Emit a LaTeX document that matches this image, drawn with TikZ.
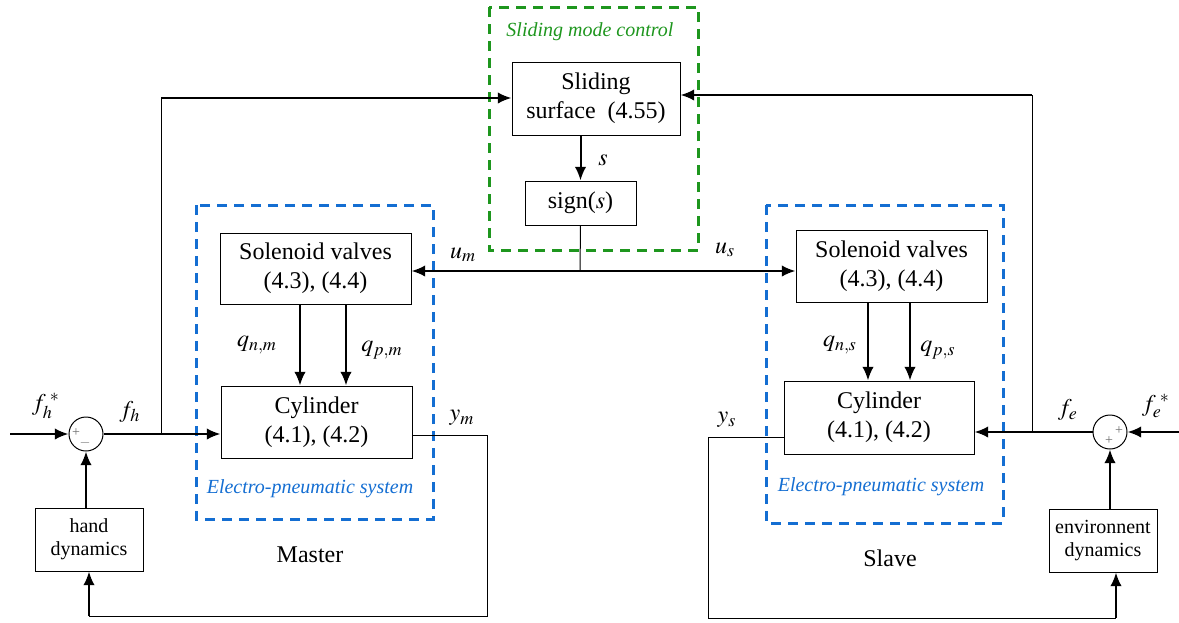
\documentclass[tikz,border=0pt]{standalone}
\usepackage{amsmath}
\usepackage{mathptmx}
\usepackage[no-math]{fontspec}
\setmainfont{Liberation Serif}
\usepackage{tikz}
\usetikzlibrary{arrows.meta,positioning,calc}
\definecolor{smcgreen}{RGB}{30,150,30}
\definecolor{epblue}{RGB}{20,110,210}
\definecolor{sgngray}{RGB}{110,110,110}
\begin{document}
\begin{tikzpicture}[
  x=0.5pt, y=-0.5pt,
  box/.style={draw, rectangle, align=center, font=\fontsize{12}{14.5}\selectfont, inner sep=2pt, line width=0.5pt},
  smallbox/.style={box, font=\fontsize{10}{11.5}\selectfont, minimum width=54pt, minimum height=31.5pt},
  sum/.style={draw, circle, minimum size=17pt, inner sep=0pt, line width=0.5pt},
  sgn/.style={font=\fontsize{7}{7}\selectfont, text=sgngray, inner sep=0pt},
  arr/.style={-{Latex[length=2.4mm,width=2mm]}, line width=1pt},
  darr/.style={{Latex[length=2.4mm,width=2mm]}-{Latex[length=2.4mm,width=2mm]}, line width=1pt},
  fb/.style={line width=0.5pt},
  grp/.style={dash pattern=on 5pt off 3.5pt, line width=1.5pt},
  lbl/.style={font=\fontsize{12}{14}\selectfont, inner sep=1pt},
  grplbl/.style={font=\fontsize{10}{12}\selectfont\itshape, inner sep=1pt},
]
\useasboundingbox (0,0) rectangle (1179,622);
\draw[grp, smcgreen] (489,7) rectangle (698,250);
\draw[grp, epblue] (196,205) rectangle (433,519);
\draw[grp, epblue] (766,205) rectangle (1003,523);
\node[grplbl, text=smcgreen] (smclbl) at (590,32) {Sliding mode control};
\node[grplbl, text=epblue] (epmlbl) at (310,489) {Electro-pneumatic system};
\node[grplbl, text=epblue] (epslbl) at (881,487) {Electro-pneumatic system};
\node[box, minimum width=84pt, minimum height=36.5pt] (surf) at (596,98.5) {Sliding\\surface\ \ (4.55)};
\node[box, minimum width=55.5pt, minimum height=22pt] (sign) at (580.5,203) {sign($s$)};
\node[box, minimum width=95.5pt, minimum height=35.5pt] (valm) at (315.5,268.5) {Solenoid valves\\(4.3), (4.4)};
\node[box, minimum width=95.5pt, minimum height=36pt] (cylm) at (316.5,422) {Cylinder\\(4.1), (4.2)};
\node[box, minimum width=95.5pt, minimum height=36pt] (vals) at (891.5,266) {Solenoid valves\\(4.3), (4.4)};
\node[box, minimum width=95pt, minimum height=36.5pt] (cyls) at (879,417.5) {Cylinder\\(4.1), (4.2)};
\node[smallbox] (hand) at (89,539.5) {hand\\dynamics};
\node[smallbox] (env) at (1103,540.5) {environnent\\dynamics};
\node[sum] (sumh) at (86,434) {};
\node[sum] (sume) at (1110,432) {};
\node[sgn] (sumhp) at (76,433) {+};
\node[sgn] (sumhm) at (85,443) {$-$};
\node[sgn] (sumep) at (1119,431) {+};
\node[sgn] (sumeq) at (1109,441) {+};
\node[lbl] (mlbl) at (310,555) {Master};
\node[lbl] (slbl) at (890,558) {Slave};
\coordinate (uj) at (580,271);
\coordinate (hin) at (10,434);
\coordinate (fhb) at (161,434);
\coordinate (fhc) at (161,98);
\coordinate (ymc) at (487,616);
\coordinate (ein) at (1179,432);
\coordinate (feb) at (1032,432);
\coordinate (fec) at (1032,95);
\coordinate (ysc) at (708,618);
\coordinate (ysd) at (1116,618);
\draw[arr] (sign.north |- surf.south) -- (sign.north);
\draw[fb] (sign.south) -- (uj);
\draw[darr] (valm.east |- uj) -- (vals.west |- uj);
\draw[arr] (valm.south -| 300,0) -- (cylm.north -| 300,0);
\draw[arr] (valm.south -| 346,0) -- (cylm.north -| 346,0);
\draw[arr] (vals.south -| 868,0) -- (cyls.north -| 868,0);
\draw[arr] (vals.south -| 910,0) -- (cyls.north -| 910,0);
\draw[arr] (hin) -- (sumh.west);
\draw[arr] (sumh.east) -- (cylm.west |- sumh.east);
\draw[fb] (fhb) -- (fhc);
\draw[arr] (fhc) -- (surf.west |- fhc);
\draw[arr] (sumh.south |- hand.north) -- (sumh.south);
\draw[fb] (cylm.east |- 0,435) -| (ymc) -- (hand.south |- ymc);
\draw[arr] (hand.south |- ymc) -- (hand.south);
\draw[arr] (ein) -- (sume.east);
\draw[arr] (sume.west) -- (cyls.east |- sume.west);
\draw[fb] (feb) -- (fec);
\draw[arr] (fec) -- (surf.east |- fec);
\draw[arr] (sume.south |- env.north) -- (sume.south);
\draw[fb] (cyls.west |- 0,437) -| (ysc) -- (ysd);
\draw[arr] (ysd) -- (env.south -| ysd);
\node[lbl] (slabel) at (603,160) {$s$};
\node[lbl] (umlabel) at (463,255) {$u_m$};
\node[lbl] (uslabel) at (725,250) {$u_s$};
\node[lbl] (qnm) at (257,345) {$q_{n,m}$};
\node[lbl] (qpm) at (382,350) {$q_{p,m}$};
\node[lbl] (qns) at (840,345) {$q_{n,s}$};
\node[lbl] (qps) at (938,350) {$q_{p,s}$};
\node[lbl] (fhs) at (46,406) {$f_h^{\;*}$};
\node[lbl] (fhl) at (130,412) {$f_h$};
\node[lbl] (yml) at (462,418) {$y_m$};
\node[lbl] (ysl) at (727,420) {$y_s$};
\node[lbl] (fel) at (1068,410) {$f_e$};
\node[lbl] (fes) at (1156,406) {$f_e^{\;*}$};
\end{tikzpicture}
\end{document}
